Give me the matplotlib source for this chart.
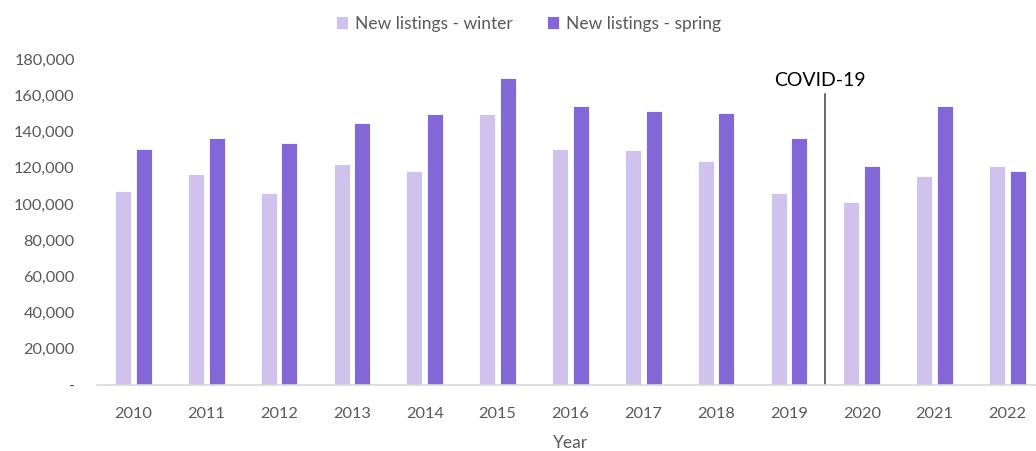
import matplotlib.pyplot as plt
import numpy as np

years = ["2010", "2011", "2012", "2013", "2014", "2015", "2016",
         "2017", "2018", "2019", "2020", "2021", "2022"]
winter = [107000, 116500, 106000, 122000, 118200, 149600, 130300,
          129600, 123500, 106000, 100900, 115600, 120900]
spring = [130300, 136400, 133600, 144700, 149600, 169500, 154000,
          151300, 150400, 136600, 120900, 153900, 118200]
yticks = [0, 20000, 40000, 60000, 80000, 100000, 120000, 140000, 160000, 180000]
covid_pos = 9.5
covid_top = 160600

plt.rcParams['font.family'] = ['Lato', 'DejaVu Sans']

fig = plt.figure(figsize=(10.36, 4.51), dpi=100)
ax = fig.add_axes([0.0936, 0.1463, 0.914, 0.7228])

x = np.arange(len(years))
w = 0.22
ax.bar(x - 0.142, winter, w, color="#cfc3ee", edgecolor="white", linewidth=0.6,
       label="New listings - winter")
ax.bar(x + 0.142, spring, w, color="#8467d7", edgecolor="white", linewidth=0.6,
       label="New listings - spring")

# covid marker line between 2019 and 2020
ax.plot([covid_pos, covid_pos], [0, covid_top], color="#404040", linewidth=1.1)
ax.text(covid_pos - 0.07, covid_top + 3000, "COVID-19", ha="center", va="bottom",
        fontsize=14, color="black")

ax.set_xlim(-0.5, len(years) - 0.5)
ax.set_ylim(0, 180000)
ax.set_xticks(x)
ax.set_xticklabels(years)
ax.set_yticks(yticks)
ax.set_yticklabels(["-"] + [f"{v:,}" for v in yticks[1:]])
ax.tick_params(axis="both", length=0, labelsize=11.8, colors="#595959")
ax.tick_params(axis="x", pad=16)
ax.tick_params(axis="y", pad=16)

for s in ["top", "right", "left"]:
    ax.spines[s].set_visible(False)
ax.spines["bottom"].set_color("#d9d9d9")
ax.spines["bottom"].set_linewidth(1.2)

ax.set_xlabel("Year", fontsize=12.5, color="#595959", labelpad=10)

leg = fig.legend(loc="upper center", bbox_to_anchor=(0.51, 1.0), ncol=2,
                 frameon=False, fontsize=12.5, handlelength=0.7, handleheight=0.7,
                 handletextpad=0.4, columnspacing=2.0)
for t in leg.get_texts():
    t.set_color("#595959")

fig.savefig("out.png", dpi=100)
